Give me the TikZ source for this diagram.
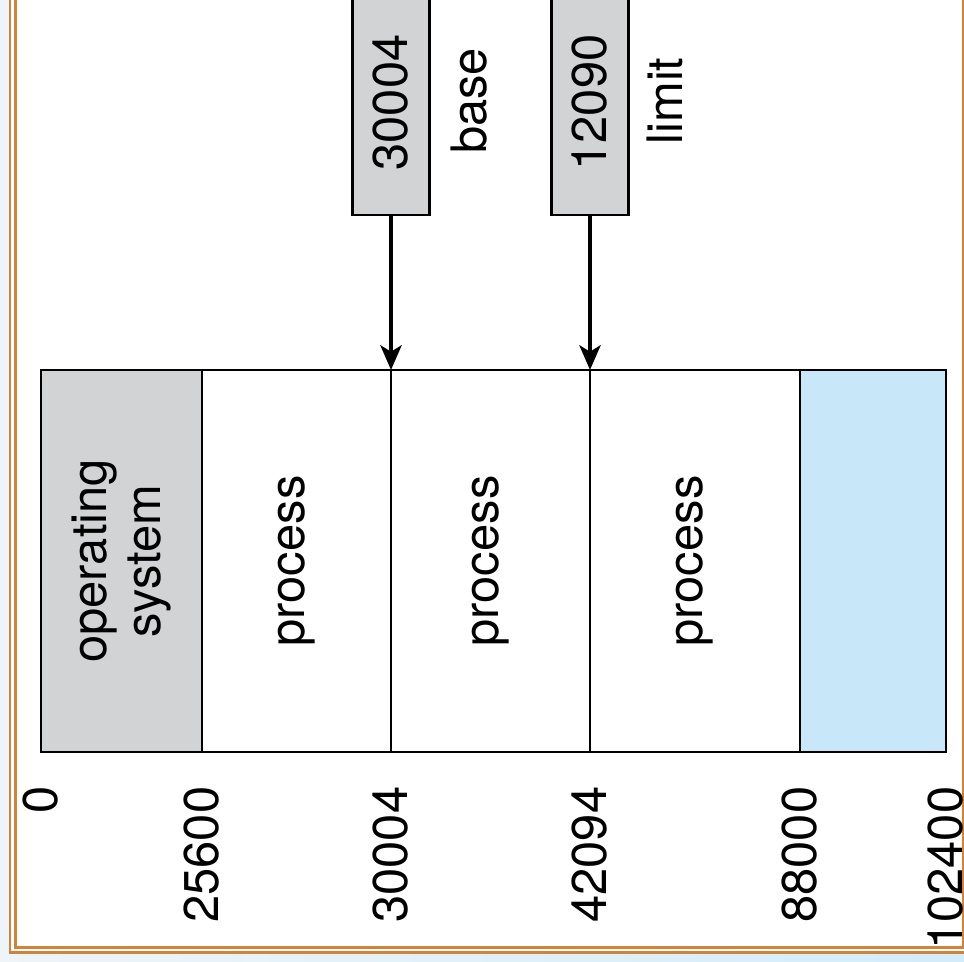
\documentclass[tikz,border=0pt]{standalone}
\usepackage{fontspec}
\setmainfont{TeX Gyre Heros}
\usepackage{xcolor}
\usetikzlibrary{arrows.meta,positioning}
\definecolor{osgray}{HTML}{D1D3D4}
\definecolor{freeblue}{HTML}{C8E7F8}
\definecolor{frameorange}{HTML}{D2833A}
\definecolor{pagebg}{HTML}{EEF4F8}
\definecolor{pageblue}{HTML}{D3ECFA}

\begin{document}
\begin{tikzpicture}[x=0.01cm, y=-0.01cm,
    every node/.style={font=\fontsize{13.9}{15.2}\selectfont},
    seg/.style={draw, line width=0.6pt, rotate=90, minimum width=3.82cm, inner sep=0pt, align=center},
    reg/.style={draw, line width=0.6pt, fill=osgray, rotate=90, minimum width=2.25cm, minimum height=0.77cm, inner sep=0pt},
    addr/.style={rotate=90, anchor=east, inner sep=0pt},
    ptr/.style={-{Stealth[length=7pt, width=6pt, inset=1.8pt]}, line width=1.2pt}]
    \useasboundingbox (0,0) rectangle (964,962);
    \fill[white] (0,0) rectangle (964,962);
    \fill[pagebg] (0,0) rectangle (9,954);
    \shade[left color=pagebg, right color=pageblue] (0,954) rectangle (964,962);
    \draw[frameorange, line width=0.8pt] (15.5,0) -- (15.5,947.5) -- (963,947.5) -- (963,0);
    \draw[frameorange, line width=0.6pt] (10,0) -- (10,952.5) -- (964,952.5);

    \begin{scope}
    \clip (16,0) rectangle (962,947);
    % memory
    \node[seg, fill=osgray, minimum height=1.61cm] (os) at (121.5,561) {operating\\system};
    \node[seg, minimum height=1.89cm] (p1) at (296.5,561) {process};
    \node[seg, minimum height=1.99cm] (p2) at (490.5,561) {process};
    \node[seg, minimum height=2.10cm] (p3) at (695,561) {process};
    \node[seg, fill=freeblue, minimum height=1.46cm] (free) at (873,561) {};

    % registers
    \node[reg] (base) at (391,102.5) {30004};
    \node[reg] (limit) at (590,102.5) {12090};
    \node[rotate=90, inner sep=0pt] (baselbl) at (469,101) {base};
    \node[rotate=90, inner sep=0pt] (limitlbl) at (665,101) {limit};
    \coordinate (d30004) at (391,370);
    \coordinate (d42094) at (590,370);
    \draw[ptr] (base.west) -- (d30004);
    \draw[ptr] (limit.west) -- (d42094);

    % addresses
    \foreach \x/\t in {41/0, 202/25600, 391/30004, 590/42094, 800/88000, 946/102400}
        \node[addr] (a\t) at (\x,786) {\t};
    \end{scope}
\end{tikzpicture}
\end{document}
